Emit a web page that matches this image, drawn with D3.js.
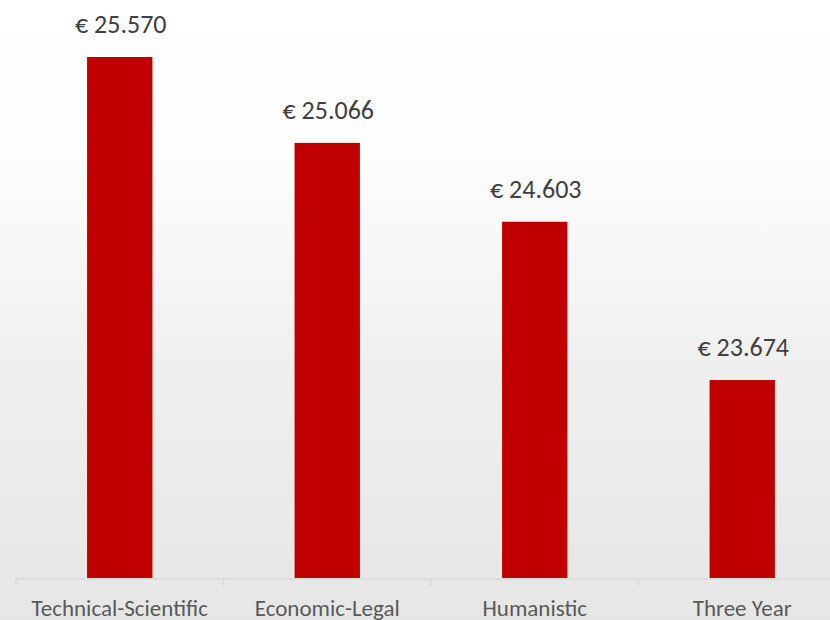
<!DOCTYPE html>
<html><head><meta charset="utf-8">
<script src="https://cdn.jsdelivr.net/npm/d3@7"></script>
<style>html,body{margin:0;padding:0;overflow:hidden;}</style>
</head><body>
<svg id="chart" width="830" height="620"></svg>
<script>
const categories = ["Technical-Scientific", "Economic-Legal", "Humanistic", "Three Year"];
const values = [25570, 25066, 24603, 23674];
const valueLabels = ["€ 25.570", "€ 25.066", "€ 24.603", "€ 23.674"];

const W = 830, H = 620;
const svg = d3.select("#chart");
const defs = svg.append("defs");
const grad = defs.append("linearGradient").attr("id","bg").attr("x1",0).attr("y1",0).attr("x2",0).attr("y2",1);
grad.append("stop").attr("offset","0%").attr("stop-color","#ffffff");
grad.append("stop").attr("offset","25%").attr("stop-color","#fdfdfd");
grad.append("stop").attr("offset","60%").attr("stop-color","#efefef");
grad.append("stop").attr("offset","100%").attr("stop-color","#e6e6e6");
svg.append("rect").attr("width",W).attr("height",H).attr("fill","url(#bg)");

const baseY = 578;
const x = d3.scaleBand().domain(categories).range([16, 846]).paddingInner(0.685).paddingOuter(0.3425);
const y = d3.scaleLinear().domain([22512, 25570]).range([baseY, 57]);

const g = svg.append("g");
g.selectAll("rect.bar").data(values).join("rect")
  .attr("class","bar")
  .attr("x",(d,i)=>x(categories[i]))
  .attr("width",x.bandwidth())
  .attr("y",d=>y(d))
  .attr("height",d=>baseY-y(d))
  .attr("fill","#c00000");

g.selectAll("text.val").data(values).join("text")
  .attr("class","val")
  .attr("x",(d,i)=>x(categories[i])+x.bandwidth()/2+1)
  .attr("y",d=>y(d)-24)
  .attr("text-anchor","middle")
  .attr("font-family","Carlito, 'Open Sans', sans-serif")
  .attr("font-size",26)
  .attr("fill","#404040")
  .text((d,i)=>valueLabels[i]);

// axis
const band = d3.scaleBand().domain(categories).range([16, 846]);
const axis = svg.append("g").attr("transform",`translate(0,${baseY+1})`);
axis.append("line").attr("x1",16).attr("x2",846).attr("stroke","#d9d9d9").attr("stroke-width",1.5);
const tickPos = categories.map(c=>band(c)).concat([846]);
axis.selectAll("line.tick").data(tickPos).join("line")
  .attr("class","tick").attr("x1",d=>d).attr("x2",d=>d).attr("y1",0).attr("y2",7)
  .attr("stroke","#d9d9d9").attr("stroke-width",1.5);
axis.selectAll("text.lab").data(categories).join("text")
  .attr("class","lab")
  .attr("x",d=>band(d)+band.bandwidth()/2)
  .attr("y",37)
  .attr("text-anchor","middle")
  .attr("font-family","Carlito, Lato, sans-serif")
  .attr("font-size",23)
  .attr("fill","#595959")
  .text(d=>d);
</script>
</body></html>
